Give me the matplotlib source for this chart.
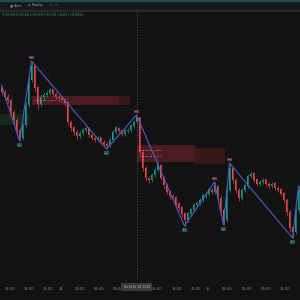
import matplotlib
matplotlib.use("Agg")
import matplotlib.pyplot as plt
import matplotlib.patches as mpatches
import numpy as np

# OHLC (one value per candle)
opens = [71.2, 70.8, 70.3, 70.0, 68.8, 68.0, 67.0, 66.2, 67.5, 69.5,
         72.0, 73.4, 71.2, 69.6, 70.3, 70.5, 70.7, 71.0, 70.6, 70.3,
         70.2, 70.0, 69.7, 67.8, 67.2, 66.8, 66.4, 66.7, 67.0, 67.2,
         66.5, 66.2, 66.0, 66.2, 65.8, 65.6, 65.4, 66.0, 66.8, 67.2,
         66.9, 66.6, 66.9, 67.0, 67.4, 67.8, 68.2, 64.8, 63.2, 62.2,
         62.0, 62.5, 63.0, 63.5, 62.2, 61.5, 60.8, 60.4, 60.2, 59.6,
         59.2, 58.6, 58.0, 58.6, 59.0, 59.5, 59.7, 60.0, 60.4, 60.6,
         61.0, 60.8, 61.4, 60.2, 59.0, 58.0, 61.0, 63.2, 62.0, 61.0,
         60.2, 61.0, 61.4, 62.4, 62.6, 62.0, 61.6, 61.8, 62.0, 61.6,
         61.4, 61.6, 61.2, 61.0, 60.6, 60.0, 58.8, 57.2, 56.8, 59.0]
closes = [70.8, 70.3, 70.0, 68.8, 68.0, 67.0, 66.2, 67.5, 69.5, 72.0,
          73.4, 71.2, 69.6, 70.3, 70.5, 70.7, 71.0, 70.6, 70.3, 70.2,
          70.0, 69.7, 67.8, 67.2, 66.8, 66.4, 66.7, 67.0, 67.2, 66.5,
          66.2, 66.0, 66.2, 65.8, 65.6, 65.4, 66.0, 66.8, 67.2, 66.9,
          66.6, 66.9, 67.0, 67.4, 67.8, 68.2, 64.8, 63.2, 62.2, 62.0,
          62.5, 63.0, 63.5, 62.2, 61.5, 60.8, 60.4, 60.2, 59.6, 59.2,
          58.6, 58.0, 58.6, 59.0, 59.5, 59.7, 60.0, 60.4, 60.6, 61.0,
          60.8, 61.4, 60.2, 59.0, 58.0, 61.0, 63.2, 62.0, 61.0, 60.2,
          61.0, 61.4, 62.4, 62.6, 62.0, 61.6, 61.8, 62.0, 61.6, 61.4,
          61.6, 61.2, 61.0, 60.6, 60.0, 58.8, 57.2, 56.8, 59.0, 61.0]
highs = [71.5, 71.0, 70.6, 70.1, 69.0, 68.2, 67.2, 67.7, 69.8, 72.3,
         73.9, 73.6, 71.4, 70.6, 70.8, 71.0, 71.2, 71.1, 70.8, 70.5,
         70.4, 70.2, 69.9, 68.0, 67.4, 67.0, 66.9, 67.2, 67.4, 67.3,
         66.7, 66.4, 66.4, 66.3, 66.0, 65.8, 66.2, 67.0, 67.4, 67.3,
         67.0, 67.1, 67.2, 67.6, 68.0, 68.5, 68.3, 65.0, 63.4, 62.4,
         62.7, 63.2, 63.8, 63.6, 62.4, 61.7, 61.0, 60.6, 60.4, 59.8,
         59.4, 58.8, 58.8, 59.2, 59.7, 59.9, 60.2, 60.6, 60.8, 61.2,
         61.2, 61.8, 61.5, 60.4, 59.2, 61.2, 63.7, 63.4, 62.2, 61.2,
         61.2, 61.6, 62.6, 62.9, 62.8, 62.2, 62.0, 62.2, 62.1, 61.8,
         61.8, 61.8, 61.4, 61.2, 60.8, 60.2, 59.0, 57.4, 59.3, 61.4]
lows = [70.5, 70.0, 69.7, 68.5, 67.6, 66.7, 65.9, 66.0, 67.3, 69.3,
        71.8, 70.9, 69.1, 69.4, 70.0, 70.3, 70.5, 70.4, 70.1, 69.9,
        69.8, 69.4, 67.5, 66.9, 66.5, 66.1, 66.2, 66.5, 66.8, 66.3,
        66.0, 65.8, 65.8, 65.6, 65.4, 65.1, 65.3, 65.8, 66.6, 66.7,
        66.4, 66.4, 66.7, 66.8, 67.2, 67.6, 64.5, 62.9, 61.9, 61.7,
        61.8, 62.3, 62.8, 62.0, 61.2, 60.6, 60.1, 59.9, 59.4, 58.9,
        58.3, 57.4, 57.8, 58.4, 58.8, 59.3, 59.5, 59.8, 60.2, 60.4,
        60.6, 60.6, 60.0, 58.8, 57.5, 57.8, 60.8, 61.7, 60.7, 59.9,
        60.0, 60.8, 61.2, 62.2, 61.8, 61.4, 61.4, 61.6, 61.4, 61.2,
        61.2, 61.0, 60.8, 60.4, 59.7, 58.5, 56.8, 56.2, 56.6, 58.8]

# zigzag pivots (candle index, price, label)
zz_idx = [0, 6, 10, 35, 45, 61, 71, 74, 76, 97, 99]
zz_price = [71.5, 65.9, 73.9, 65.1, 68.5, 57.4, 61.8, 57.5, 63.7, 56.2, 61.4]
zz_label = ["", "HL", "HH", "LL", "LH", "LL", "LH", "HL", "HH", "LL", ""]

# time axis
tick_pos = [2.8, 9.2, 15.5, 19.8, 26.2, 32.5, 38.8, 51.8, 58.5, 64.8, 68.8, 75.2, 81.8, 88.2, 94.5]
tick_txt = ["15:00", "18:00", "21:00", "14", "03:00", "06:00", "09:00", "15:00", "18:00",
            "21:00", "15", "03:00", "06:00", "09:00", "12:00"]

BG = "#121212"
UP = "#1d9a85"
DOWN = "#e5474b"

fig = plt.figure(figsize=(3, 3), dpi=100, facecolor=BG)
ax = fig.add_axes([0, 20 / 300, 1, 270 / 300], facecolor=BG)

x = np.arange(len(closes))
o = np.array(opens)
c = np.array(closes)
cols = [UP if cc >= oo else DOWN for oo, cc in zip(o, c)]
ax.vlines(x, lows, highs, colors=cols, linewidth=0.5, zorder=3)
ax.bar(x, np.abs(c - o) + 0.05, bottom=np.minimum(o, c), width=0.62, color=cols, linewidth=0, zorder=4)

# zones
ax.add_patch(mpatches.Rectangle((10.2, 69.5), 29.1, 0.9, color="#f23645", alpha=0.26, lw=0, zorder=2))
ax.add_patch(mpatches.Rectangle((39.3, 69.5), 3.4, 0.9, color="#f23645", alpha=0.17, lw=0, zorder=2))
ax.text(10.8, 69.95, "Bearish OB : 0.98 %", fontsize=1.6, color="#d0b0b0", va="center", zorder=5)
ax.add_patch(mpatches.Rectangle((45.2, 63.8), 19.3, 1.7, color="#f23645", alpha=0.26, lw=0, zorder=2))
ax.add_patch(mpatches.Rectangle((64.5, 63.6), 10.0, 1.6, color="#f23645", alpha=0.17, lw=0, zorder=2))
ax.text(46.0, 65.0, "Bearish OB : 1.26 %", fontsize=1.6, color="#d0b0b0", va="center", zorder=5)
ax.text(46.0, 64.4, "Bearish OB : 0.51 %", fontsize=1.6, color="#d0b0b0", va="center", zorder=5)
ax.add_patch(mpatches.Rectangle((-0.5, 67.5), 9.8, 1.1, color="#2e7d4f", alpha=0.2, lw=0, zorder=2))

# zigzag and pivot labels
ax.plot(zz_idx, zz_price, color="#4b5cc4", linewidth=0.8, zorder=6)
for i, p, lab in zip(zz_idx, zz_price, zz_label):
    if not lab:
        continue
    if lab in ("HH", "LH"):
        ax.text(i, p + 0.35, lab, fontsize=1.7, color="#e8d0d0", ha="center", va="center", zorder=7,
                bbox=dict(boxstyle="square,pad=0.5", fc="#6e3a3c", ec="none"))
    else:
        ax.text(i, p - 0.4, lab, fontsize=1.7, color="#cfe8e0", ha="center", va="center", zorder=7,
                bbox=dict(boxstyle="square,pad=0.5", fc="#245a4e", ec="none"))

# crosshair
ax.axvline(45, color="#5e5e5e", linewidth=0.5, linestyle=(0, (2, 2)), zorder=8)

ax.set_xlim(-0.5, 99.5)
ax.set_ylim(52, 79)
ax.set_xticks(tick_pos)
ax.set_xticklabels(tick_txt)
ax.set_yticks(np.arange(53, 79, 2))
ax.tick_params(axis="x", length=0, pad=5, labelsize=2.6, labelcolor="#8a8a8a")
ax.tick_params(axis="y", left=False, labelleft=False)
ax.grid(True, color="#1a1a1a", linewidth=0.4)
for s in ax.spines.values():
    s.set_visible(False)

# crosshair time label
ax.text(45, 51.3, "Thu 14 Jul '22  12:00", fontsize=1.9, color="#d8d8d8", ha="center", va="center",
        clip_on=False, zorder=9, bbox=dict(boxstyle="square,pad=0.6", fc="#3a3a3a", ec="none"))

# toolbar on top
fig.patches.append(mpatches.Rectangle((0, 290 / 300), 1, 10 / 300, transform=fig.transFigure,
                                      color="#181818", zorder=10))
fig.patches.append(mpatches.Rectangle((0, 299 / 300), 1, 1 / 300, transform=fig.transFigure,
                                      color="#1d4d4d", zorder=11))
fig.patches.append(mpatches.Rectangle((0, 289 / 300), 1, 1 / 300, transform=fig.transFigure,
                                      color="#2a2a2a", zorder=11))
fig.text(10 / 300, 1 - 5 / 300, "\u25a3 Alert", fontsize=2.3, color="#9a9a9a", va="center", zorder=12)
fig.text(28 / 300, 1 - 5 / 300, "\u25ce Replay", fontsize=2.3, color="#9a9a9a", va="center", zorder=12)
fig.text(50 / 300, 1 - 5 / 300, "\u21b6  \u21b7", fontsize=2.3, color="#6a6a6a", va="center", zorder=12)
fig.text(2 / 300, 1 - 14.5 / 300, "O 63.58 H 63.60 L 63.53 C 63.58 +0.05 (+0.08%)", fontsize=2.3,
         color="#22ab94", va="center", zorder=12)

fig.savefig("out.png", dpi=100, facecolor=BG)
